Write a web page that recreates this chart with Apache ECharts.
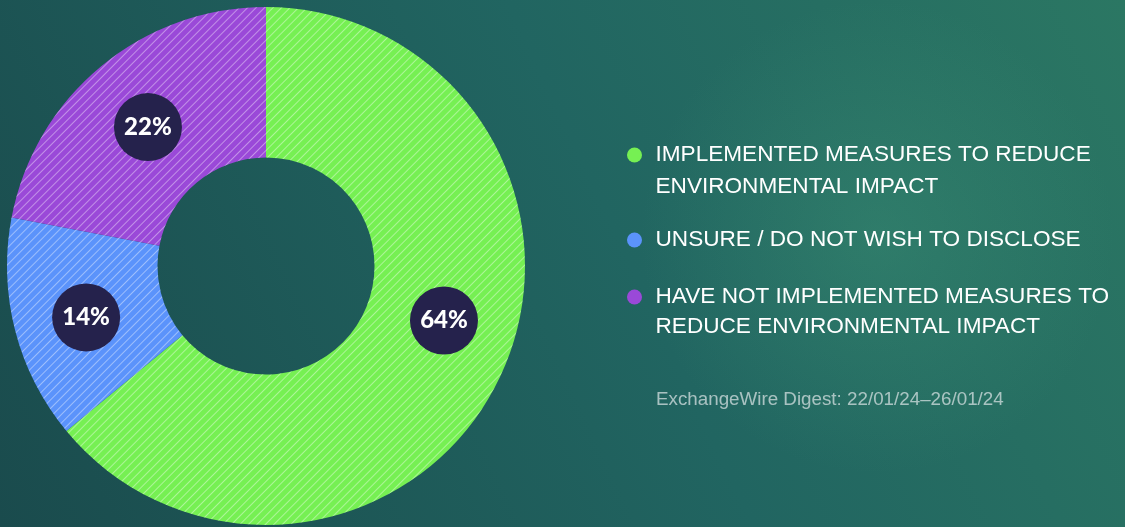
<!DOCTYPE html>
<html>
<head>
<meta charset="utf-8">
<script src="https://cdn.jsdelivr.net/npm/echarts@6/dist/echarts.min.js"></script>
<style>
  html, body { margin: 0; padding: 0; background: #1d5a58; }
  #chart { width: 1125px; height: 527px; }
</style>
</head>
<body>
<div id="chart"></div>
<script>
// Survey answers: share of respondents (%)
const categories = [
  'IMPLEMENTED MEASURES TO REDUCE\nENVIRONMENTAL IMPACT',
  'UNSURE / DO NOT WISH TO DISCLOSE',
  'HAVE NOT IMPLEMENTED MEASURES TO\nREDUCE ENVIRONMENTAL IMPACT'
];
const values = [64, 14, 22];
const colors = ['#76f053', '#5b93fb', '#9a49d8'];
const sourceNote = 'ExchangeWire Digest: 22/01/24\u201326/01/24';

const TEXT_FONT = '"Liberation Sans", Arial, sans-serif';
const BADGE_FONT = 'Lato, "Liberation Sans", sans-serif';

// diagonal stripe texture laid over every slice
const stripes = {
  symbol: 'rect',
  symbolSize: 1,
  dashArrayX: [[1, 0]],
  dashArrayY: [1, 4.8],
  rotation: -Math.PI / 4,
  color: 'rgba(255,255,255,0.4)'
};

const pieData = categories.map((name, i) => {
  const item = {
    name: name,
    value: values[i],
    itemStyle: { color: colors[i], decal: stripes }
  };
  if (i === 0) item.label = { offset: [9, -25] };
  return item;
});

// one legend block per answer; a leading blank line keeps the dot level with
// the first line of a wrapped label
const legendTops = [107, 224, 252];
const lineHeights = [32, 32, 30];
const legends = categories.map((name, i) => {
  const wrapped = name.indexOf('\n') >= 0;
  return {
    data: [name],
    orient: 'vertical',
    left: 627,
    top: legendTops[i],
    padding: 0,
    icon: 'circle',
    itemWidth: 32,
    itemHeight: 15,
    selectedMode: false,
    itemStyle: { decal: 'none' },
    formatter: (n) => (wrapped ? '\n' + n : n),
    textStyle: {
      color: '#ffffff',
      fontFamily: TEXT_FONT,
      fontSize: 22.6,
      lineHeight: lineHeights[i]
    }
  };
});

const chart = echarts.init(document.getElementById('chart'), null, { renderer: 'canvas' });
chart.setOption({
  animation: false,
  backgroundColor: {
    type: 'linear', x: 1, y: 0, x2: 0, y2: 1,
    colorStops: [
      { offset: 0, color: '#2b7763' },
      { offset: 0.45, color: '#216561' },
      { offset: 1, color: '#1a4b4d' }
    ]
  },
  graphic: [{
    type: 'rect',
    silent: true,
    z: -10,
    shape: { x: 0, y: 0, width: 1125, height: 527 },
    style: {
      fill: {
        type: 'radial', x: 0.78, y: 0.45, r: 0.45,
        colorStops: [
          { offset: 0, color: 'rgba(70,160,125,0.3)' },
          { offset: 1, color: 'rgba(70,160,125,0)' }
        ]
      }
    }
  }],
  title: {
    text: sourceNote,
    left: 656,
    top: 390,
    padding: 0,
    textStyle: {
      color: 'rgba(220,228,230,0.72)',
      fontFamily: TEXT_FONT,
      fontSize: 18.8,
      fontWeight: 'normal'
    }
  },
  legend: legends,
  series: [{
    type: 'pie',
    center: [266, 266],
    radius: [108.5, 259],
    startAngle: 90,
    clockwise: true,
    silent: true,
    avoidLabelOverlap: false,
    label: {
      show: true,
      position: 'inside',
      formatter: '{c}%',
      offset: [1, 5],
      color: '#ffffff',
      fontFamily: BADGE_FONT,
      fontWeight: 900,
      fontSize: 24,
      backgroundColor: '#25224c',
      width: 68,
      height: 68,
      lineHeight: 68,
      borderRadius: 34,
      align: 'center',
      verticalAlign: 'middle'
    },
    labelLine: { show: false },
    data: pieData
  }]
});
</script>
</body>
</html>
